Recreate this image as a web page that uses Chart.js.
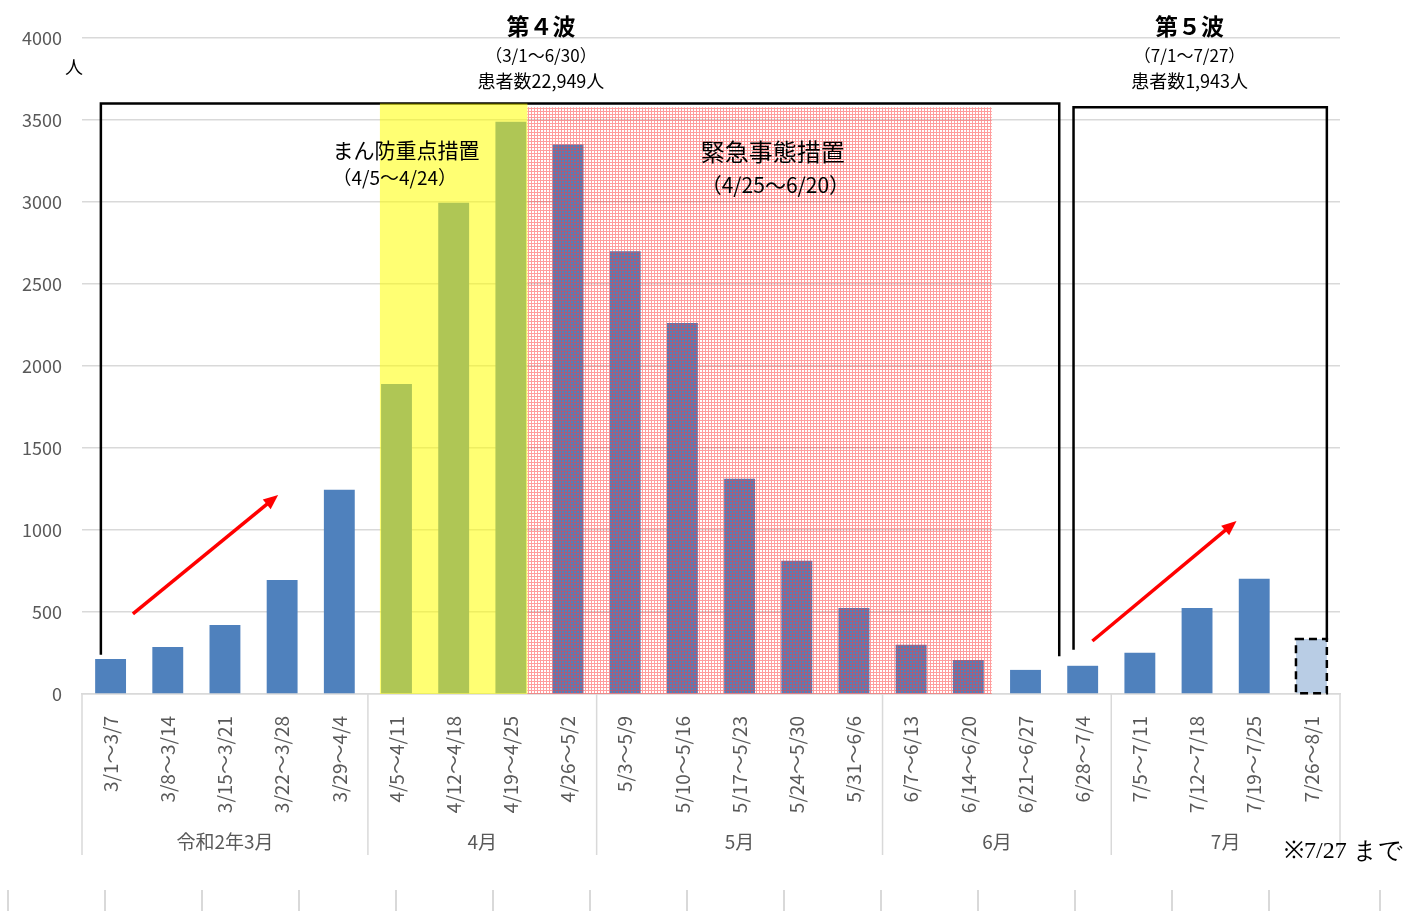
<!DOCTYPE html>
<html>
<head>
<meta charset="utf-8">
<script src="https://cdn.jsdelivr.net/npm/chart.js@4.4.0/dist/chart.umd.min.js"></script>
<style>
  html, body { margin: 0; padding: 0; background: #fff; }
  #wrap { width: 1413px; height: 911px; position: relative; }
</style>
</head>
<body>
<div id="wrap"><canvas id="waveChart"></canvas></div>
<script>
// weekly new patients
const weekLabels = [
  '3/1～3/7', '3/8～3/14', '3/15～3/21', '3/22～3/28', '3/29～4/4',
  '4/5～4/11', '4/12～4/18', '4/19～4/25',
  '4/26～5/2', '5/3～5/9', '5/10～5/16', '5/17～5/23', '5/24～5/30',
  '5/31～6/6', '6/7～6/13', '6/14～6/20', '6/21～6/27',
  '6/28～7/4', '7/5～7/11', '7/12～7/18', '7/19～7/25', '7/26～8/1'
];
const patients = [
  213, 287, 421, 695, 1245,
  1890, 2995, 3490,
  3350, 2700, 2262, 1312, 812,
  525, 300, 208, 147,
  172, 251, 525, 702, 336
];
const monthNames = ['令和2年3月', '4月', '5月', '6月', '7月'];
const monthSpans = [5, 4, 5, 4, 4];
const yMax = 4000;
const yStep = 500;

const font = '"Noto Sans CJK JP", "Noto Sans", sans-serif';
Chart.defaults.font.family = font;

const barColors = patients.map((v, i) => i === patients.length - 1 ? '#b9cde5' : '#4f81bd');

// red dotted fill for the emergency period
function redPattern(ctx) {
  const c = document.createElement('canvas');
  c.width = 3; c.height = 3;
  const g = c.getContext('2d');
  g.fillStyle = 'rgba(255,60,60,0.5)';
  g.fillRect(0, 0, 3, 1);
  g.fillRect(0, 1, 1, 2);
  return ctx.createPattern(c, 'repeat');
}

function arrow(ctx, x1, y1, x2, y2) {
  const ang = Math.atan2(y2 - y1, x2 - x1);
  const head = 16;
  ctx.save();
  ctx.strokeStyle = '#ff0000';
  ctx.fillStyle = '#ff0000';
  ctx.lineWidth = 3.5;
  ctx.beginPath();
  ctx.moveTo(x1, y1);
  ctx.lineTo(x2 - Math.cos(ang) * head * 0.8, y2 - Math.sin(ang) * head * 0.8);
  ctx.stroke();
  ctx.beginPath();
  ctx.moveTo(x2, y2);
  ctx.lineTo(x2 - head * Math.cos(ang - 0.4), y2 - head * Math.sin(ang - 0.4));
  ctx.lineTo(x2 - head * Math.cos(ang + 0.4), y2 - head * Math.sin(ang + 0.4));
  ctx.closePath();
  ctx.fill();
  ctx.restore();
}

function text(ctx, str, x, y, f, align) {
  ctx.font = f;
  ctx.textAlign = align || 'center';
  ctx.textBaseline = 'middle';
  ctx.fillText(str, x, y);
}

const annotations = {
  id: 'annotations',
  afterDatasetsDraw(chart) {
    const { ctx, chartArea: a, scales: { x, y } } = chart;
    const cw = x.width / weekLabels.length;
    const px = (i, f) => x.getPixelForValue(i) + f * cw;

    // last bar: dashed border (partial week)
    const last = chart.getDatasetMeta(0).data[patients.length - 1];
    ctx.save();
    ctx.strokeStyle = '#000';
    ctx.lineWidth = 2.5;
    ctx.setLineDash([8, 5]);
    ctx.strokeRect(last.x - last.width / 2, last.y, last.width, last.base - last.y);
    ctx.restore();

    // wave brackets
    ctx.save();
    ctx.strokeStyle = '#000';
    ctx.lineWidth = 2.5;
    ctx.beginPath();
    ctx.moveTo(px(0, -0.17), y.getPixelForValue(240));
    ctx.lineTo(px(0, -0.17), y.getPixelForValue(3600));
    ctx.lineTo(px(16, 0.59), y.getPixelForValue(3600));
    ctx.lineTo(px(16, 0.59), y.getPixelForValue(230));
    ctx.moveTo(px(17, -0.16), y.getPixelForValue(270));
    ctx.lineTo(px(17, -0.16), y.getPixelForValue(3578));
    ctx.lineTo(px(21, 0.27), y.getPixelForValue(3578));
    ctx.lineTo(px(21, 0.27), y.getPixelForValue(330));
    ctx.stroke();
    ctx.restore();

    // mambo (yellow) and emergency (red dots) periods
    ctx.save();
    ctx.fillStyle = 'rgba(255,255,0,0.55)';
    const yTop = y.getPixelForValue(3600);
    ctx.fillRect(px(5, -0.29), yTop, px(7, 0.29) - px(5, -0.29), a.bottom - yTop);
    const rTop = y.getPixelForValue(3578);
    ctx.fillStyle = redPattern(ctx);
    ctx.fillRect(px(7, 0.29), rTop, px(15, 0.41) - px(7, 0.29), a.bottom - rTop);
    ctx.restore();

    // trend arrows
    arrow(ctx, px(0, 0.39), y.getPixelForValue(488), px(3, -0.07), y.getPixelForValue(1213));
    arrow(ctx, px(17, 0.17), y.getPixelForValue(323), px(20, -0.31), y.getPixelForValue(1055));

    // texts
    ctx.save();
    ctx.fillStyle = '#000';
    text(ctx, '第４波', px(8, -0.475), y.getPixelForValue(4073), 'bold 23px ' + font);
    text(ctx, '（3/1～6/30）', px(8, -0.475), y.getPixelForValue(3896), '17px ' + font);
    text(ctx, '患者数22,949人', px(8, -0.475), y.getPixelForValue(3738), '18px ' + font);
    text(ctx, '第５波', px(19, -0.13), y.getPixelForValue(4073), 'bold 23px ' + font);
    text(ctx, '（7/1～7/27）', px(19, -0.13), y.getPixelForValue(3896), '17px ' + font);
    text(ctx, '患者数1,943人', px(19, -0.13), y.getPixelForValue(3738), '18px ' + font);
    text(ctx, 'まん防重点措置', px(6, -2.12), y.getPixelForValue(3317), '21px ' + font, 'left');
    text(ctx, '（4/5～4/24）', px(6, -2.12), y.getPixelForValue(3146), '19px ' + font, 'left');
    text(ctx, '緊急事態措置', px(11, -0.68), y.getPixelForValue(3305), '24px ' + font, 'left');
    text(ctx, '（4/25～6/20）', px(11, -0.68), y.getPixelForValue(3104), '21px ' + font, 'left');
    text(ctx, '人', a.left - 8, y.getPixelForValue(3823), '18px ' + font);
    ctx.restore();
  },
  afterDraw(chart) {
    const { ctx, chartArea: a, scales: { x } } = chart;
    const cw = x.width / weekLabels.length;
    const bottom = a.bottom + 161;
    ctx.save();
    ctx.strokeStyle = '#d9d9d9';
    ctx.lineWidth = 1.5;
    ctx.fillStyle = '#595959';
    let start = 0;
    monthSpans.forEach((n, k) => {
      const left = a.left + start * cw;
      const right = left + n * cw;
      ctx.beginPath();
      ctx.moveTo(left, a.bottom);
      ctx.lineTo(left, bottom);
      ctx.stroke();
      text(ctx, monthNames[k], (left + right) / 2, a.bottom + 148, '19px ' + font);
      start += n;
    });
    ctx.beginPath();
    ctx.moveTo(a.right, a.bottom);
    ctx.lineTo(a.right, bottom);
    ctx.stroke();

    // footnote
    ctx.fillStyle = '#000';
    text(ctx, '※7/27 まで', a.right - 56, a.bottom + 158,
      '24px "Liberation Serif", "DejaVu Serif", "Times New Roman", serif', 'left');

    // row of cell borders at the bottom edge
    ctx.lineWidth = 2;
    const h = chart.height;
    for (let k = 0; k < 14; k++) {
      const xx = 8 + k * 97;
      ctx.beginPath();
      ctx.moveTo(xx, h - 21);
      ctx.lineTo(xx, h);
      ctx.stroke();
    }
    ctx.beginPath();
    ctx.moveTo(1380, h - 21);
    ctx.lineTo(1380, h);
    ctx.stroke();
    ctx.restore();
  }
};

new Chart(document.getElementById('waveChart'), {
  type: 'bar',
  data: {
    labels: weekLabels,
    datasets: [{
      data: patients,
      backgroundColor: barColors,
      borderWidth: 0,
      categoryPercentage: 1,
      barPercentage: 0.54
    }]
  },
  options: {
    responsive: true,
    maintainAspectRatio: false,
    animation: false,
    layout: { padding: { top: 38, right: 73, left: 0, bottom: 0 } },
    plugins: {
      legend: { display: false },
      tooltip: { enabled: false }
    },
    scales: {
      x: {
        grid: { display: false },
        border: { color: '#d9d9d9', width: 1.5 },
        ticks: {
          minRotation: 90,
          maxRotation: 90,
          autoSkip: false,
          padding: 14,
          color: '#595959',
          font: { size: 19 }
        },
        afterFit(scale) { scale.height = 217; }
      },
      y: {
        min: 0,
        max: yMax,
        grid: { color: '#d9d9d9', lineWidth: 1.5, drawTicks: false },
        border: { display: false },
        ticks: {
          stepSize: yStep,
          padding: 20,
          color: '#595959',
          font: { size: 18 },
          callback: v => String(v)
        },
        afterFit(scale) { scale.width = 82; }
      }
    }
  },
  plugins: [annotations]
});
</script>
</body>
</html>
